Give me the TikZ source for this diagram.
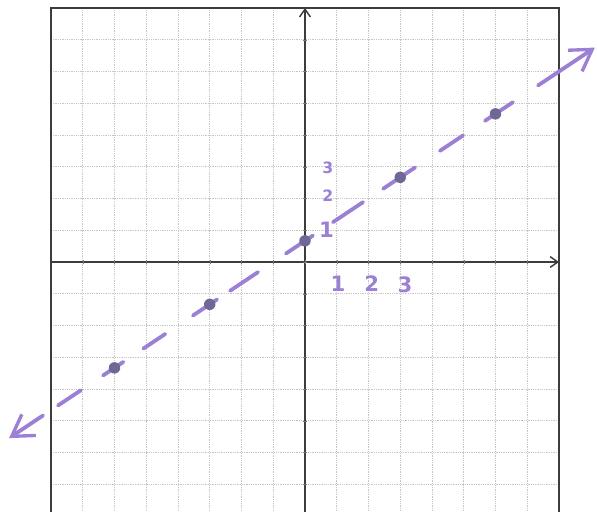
\documentclass[tikz,border=0pt]{standalone}
\usepackage{fontspec}
\setsansfont{DejaVu Sans}
\usetikzlibrary{arrows.meta}
\definecolor{penpurple}{HTML}{9B80D6}
\definecolor{dotgray}{HTML}{6F6894}
\definecolor{gridgray}{HTML}{C6C6C6}
\definecolor{axisgray}{HTML}{3C3C3C}

\begin{document}
\begin{tikzpicture}[x=1cm, y=1cm,
  gridline/.style={gridgray, densely dotted, line width=0.6pt},
  frame/.style={axisgray, line width=1.3pt},
  axis/.style={axisgray, line width=1.3pt, -{Straight Barb[length=2.4mm, width=3.4mm]}},
  pen/.style={penpurple, line width=3.4pt, line cap=round},
  penarrow/.style={pen, -{Straight Barb[length=6.5mm, width=8mm, line width=3pt]}},
  dot/.style={circle, fill=dotgray, inner sep=0pt, minimum size=3.6mm},
  numlabel/.style={penpurple, font=\sffamily\bfseries\fontsize{19}{19}\selectfont},
  smalllabel/.style={penpurple, font=\sffamily\bfseries\fontsize{14}{14}\selectfont}]
  \useasboundingbox (-9.606,-7.843) rectangle (9.197,8.252);
  \clip (-9.606,-7.843) rectangle (9.197,8.252);
  % grid paper
  \draw[gridline] (-8,-8) grid (8,8);
  \draw[frame] (-8,-8) -- (-8,8) -- (8,8) -- (8,-8);
  \coordinate (xmin) at (-8,0);
  \coordinate (xmax) at (8,0);
  \coordinate (ymin) at (0,-8);
  \coordinate (ymax) at (0,8);
  \draw[axis] (xmin) -- (xmax);
  \draw[axis] (ymin) -- (ymax);
  \foreach \k in {-7,...,7} {
    \draw[axisgray!70, line width=0.4pt] (\k,-0.07) -- (\k,0.07);
    \draw[axisgray!70, line width=0.4pt] (-0.07,\k) -- (0.07,\k);
  }
  % the line y = 2/3 (x+1), drawn in dashes
  \foreach \a/\b in {-7.78/-7.06, -6.36/-5.72, -5.09/-4.4, -3.53/-2.77, -2.36/-1.48,
                     -0.6/0.25, 0.88/1.83, 2.46/3.47, 4.25/4.98, 5.67/6.55}
    \draw[pen] (\a,{2/3*(\a+1)}) -- (\b,{2/3*(\b+1)});
  \coordinate (upstart) at (7.34,{2/3*8.34});
  \coordinate (upend) at (9.13,{2/3*10.13});
  \coordinate (downstart) at (-8.25,{2/3*(-7.25)});
  \coordinate (downend) at (-9.32,{2/3*(-8.32)});
  \draw[penarrow] (upstart) -- (upend);
  \draw[penarrow] (downstart) -- (downend);
  \foreach \k in {-6,-3,0,3,6}
    \node[dot] (pt\k) at (\k,{2/3*(\k+1)}) {};
  % scale marks
  \node[numlabel] (xone) at (1.04,-0.68) {1};
  \node[numlabel] (xtwo) at (2.1,-0.68) {2};
  \node[numlabel] (xthree) at (3.15,-0.72) {3};
  \node[numlabel] (yone) at (0.68,1.0) {1};
  \node[smalllabel] (ytwo) at (0.72,2.1) {2};
  \node[smalllabel] (ythree) at (0.72,2.97) {3};
\end{tikzpicture}
\end{document}
